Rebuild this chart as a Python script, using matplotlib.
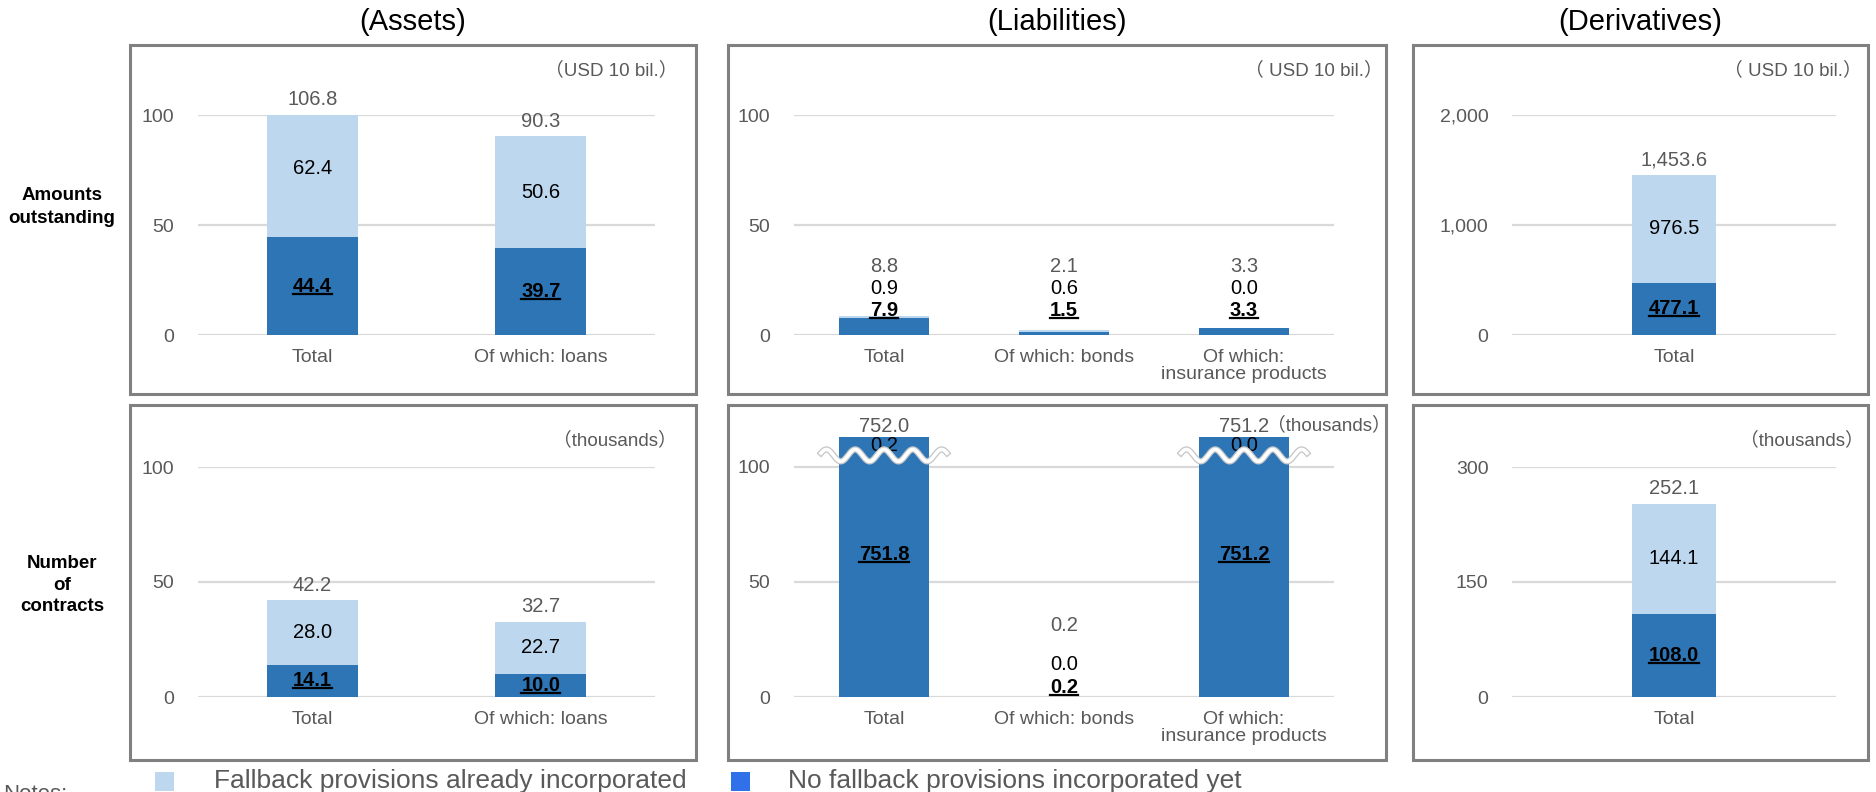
import numpy as np
import matplotlib.pyplot as plt
from matplotlib.patches import Rectangle
from matplotlib.lines import Line2D
from matplotlib.transforms import IdentityTransform

plt.rcParams['font.family'] = ['Liberation Sans', 'Noto Sans CJK JP', 'DejaVu Sans']

# %% data
assets_cats = ['Total', 'Of which: loans']
assets_amt_dark = [44.4, 39.7]
assets_amt_light = [62.4, 50.6]
assets_amt_total = [106.8, 90.3]
assets_num_dark = [14.1, 10.0]
assets_num_light = [28.0, 22.7]
assets_num_total = [42.2, 32.7]

liab_cats = ['Total', 'Of which: bonds', 'Of which:\ninsurance products']
liab_amt_dark = [7.9, 1.5, 3.3]
liab_amt_light = [0.9, 0.6, 0.0]
liab_amt_total = [8.8, 2.1, 3.3]
liab_num_dark = [751.8, 0.2, 751.2]
liab_num_light = [0.2, 0.0, 0.0]
liab_num_total = [752.0, 0.2, 751.2]

deriv_cats = ['Total']
deriv_amt_dark = [477.1]
deriv_amt_light = [976.5]
deriv_amt_total = [1453.6]
deriv_num_dark = [108.0]
deriv_num_light = [144.1]
deriv_num_total = [252.1]

legend_labels = ['Fallback provisions already incorporated',
                 'No fallback provisions incorporated yet']

# %% style
DARK = '#2E75B6'
LIGHT = '#BDD7EE'
LEGEND_DARK = '#3070E8'
GRAY = '#595959'
W, H = 1876, 792

fig = plt.figure(figsize=(W / 100, H / 100), dpi=100)
underlined = []


def rect_px(x0, y0, x1, y1):
    # pixel box, origin top-left -> figure fraction
    return [x0 / W, 1 - y1 / H, (x1 - x0) / W, (y1 - y0) / H]


def box(x0, y0, x1, y1):
    r = rect_px(x0, y0, x1, y1)
    fig.add_artist(Rectangle((r[0], r[1]), r[2], r[3], transform=fig.transFigure,
                             fill=False, ec='#808080', lw=2.2))


def panel(rect, cats, dark, light, totals, ymax, ticks, width, unit, unit_xy,
          stack=(11, 21, 31), break_y=None):
    ax = fig.add_axes(rect)
    x = np.arange(len(cats))
    ax.bar(x, dark, width, color=DARK, zorder=2)
    ax.bar(x, light, width, bottom=dark, color=LIGHT, zorder=2)
    ax.set_xlim(-0.5, len(cats) - 0.5)
    ax.set_ylim(0, ymax)
    ax.set_yticks(ticks)
    ax.set_yticklabels([f'{t:,}' for t in ticks])
    ax.set_xticks(x)
    ax.set_xticklabels(cats, linespacing=1.0)
    ax.yaxis.grid(True, color='#D9D9D9', lw=1.6)
    ax.set_axisbelow(True)
    for s in ax.spines.values():
        s.set_visible(False)
    ax.tick_params(length=0, labelsize=14, colors=GRAY)
    ax.tick_params(axis='y', pad=17)
    ax.tick_params(axis='x', pad=10)

    for i in x:
        d, l, t = dark[i], light[i], totals[i]
        top = min(d + l, ymax)
        if d >= ymax:
            # broken bar: clipped at the top of the axes
            ax.annotate(f'{t:,.1f}', (i, top), xytext=(0, 1), textcoords='offset points',
                        ha='center', va='bottom', color=GRAY, fontsize=14.5, annotation_clip=False)
            ax.annotate(f'{l:,.1f}', (i, top), xytext=(0, 1), textcoords='offset points',
                        ha='center', va='top', color='black', fontsize=14.5, annotation_clip=False)
            dk = ax.text(i, ymax * 0.55, f'{d:,.1f}', ha='center', va='center',
                         fontsize=14.5, fontweight='bold', zorder=4)
            xs = np.linspace(i - 0.35, i + 0.35, 300)
            ys = break_y + 2.6 * np.cos(2 * np.pi * (xs - i) / 0.16)
            ax.plot(xs, ys, color='#C8C8C8', lw=4.5, zorder=3, clip_on=False)
            ax.plot(xs, ys, color='white', lw=2.6, zorder=3, clip_on=False)
        elif d + l < 0.15 * ymax:
            # small bar: labels stacked above
            ax.text(i, stack[2], f'{t:,.1f}', ha='center', va='center', color=GRAY, fontsize=14.5)
            ax.text(i, stack[1], f'{l:,.1f}', ha='center', va='center', color='black', fontsize=14.5)
            dk = ax.text(i, stack[0], f'{d:,.1f}', ha='center', va='center',
                         fontsize=14.5, fontweight='bold', zorder=4)
        else:
            ax.annotate(f'{t:,.1f}', (i, top), xytext=(0, 4), textcoords='offset points',
                        ha='center', va='bottom', color=GRAY, fontsize=14.5, annotation_clip=False)
            ax.text(i, d + l / 2, f'{l:,.1f}', ha='center', va='center', color='black',
                    fontsize=14.5, zorder=4)
            dk = ax.text(i, d / 2, f'{d:,.1f}', ha='center', va='center',
                         fontsize=14.5, fontweight='bold', zorder=4)
        underlined.append(dk)

    # unit note, anchored to the panel box
    fig.text(unit_xy[0] / W, 1 - unit_xy[1] / H, unit, ha='right', va='center',
             color=GRAY, fontsize=13.5)
    return ax


# ----- boxes -----
cols = [(130, 696), (728, 1386), (1413, 1868)]
rows = [(45, 394), (405, 760)]
for (y0, y1) in rows:
    for (x0, x1) in cols:
        box(x0, y0, x1, y1)

for (x0, x1), title in zip(cols, ['(Assets)', '(Liabilities)', '(Derivatives)']):
    fig.text((x0 + x1) / 2 / W, 1 - 22 / H, title, ha='center', va='center', fontsize=21)

fig.text(62 / W, 1 - 207 / H, 'Amounts\noutstanding', ha='center', va='center',
         fontsize=13.5, fontweight='bold', linespacing=1.4)
fig.text(62 / W, 1 - 585 / H, 'Number\nof\ncontracts', ha='center', va='center',
         fontsize=13.5, fontweight='bold', linespacing=1.35)

# ----- top row: amounts outstanding -----
panel(rect_px(198, 115, 655, 335), assets_cats, assets_amt_dark, assets_amt_light,
      assets_amt_total, 100, [0, 50, 100], 0.4, '（USD 10 bil.）', (677, 70))
panel(rect_px(794, 115, 1334, 335), liab_cats, liab_amt_dark, liab_amt_light,
      liab_amt_total, 100, [0, 50, 100], 0.5, '（ USD 10 bil.）', (1383, 70))
panel(rect_px(1512, 115, 1836, 335), deriv_cats, deriv_amt_dark, deriv_amt_light,
      deriv_amt_total, 2000, [0, 1000, 2000], 0.26, '（ USD 10 bil.）', (1862, 70))

# ----- bottom row: number of contracts -----
panel(rect_px(198, 467, 655, 697), assets_cats, assets_num_dark, assets_num_light,
      assets_num_total, 100, [0, 50, 100], 0.4, '（thousands）', (677, 440))
panel(rect_px(794, 437, 1334, 697), liab_cats, liab_num_dark, liab_num_light,
      liab_num_total, 113, [0, 50, 100], 0.5, '（thousands）', (1391, 425),
      stack=(4, 14, 31), break_y=105)
panel(rect_px(1512, 467, 1836, 697), deriv_cats, deriv_num_dark, deriv_num_light,
      deriv_num_total, 300, [0, 150, 300], 0.26, '（thousands）', (1864, 440))

# ----- legend -----
for (sx, tx), color, label in zip([(155, 214), (731, 788)], [LIGHT, LEGEND_DARK], legend_labels):
    r = rect_px(sx, 772, sx + 19, 791)
    fig.add_artist(Rectangle((r[0], r[1]), r[2], r[3], transform=fig.transFigure,
                             color=color, lw=0))
    fig.text(tx / W, 1 - 781 / H, label, ha='left', va='center', fontsize=19, color=GRAY)
fig.text(3 / W, 1 - 784 / H, 'Notes:', ha='left', va='top', fontsize=16, color=GRAY)

# underline the bold figures
fig.canvas.draw()
renderer = fig.canvas.get_renderer()
for t in underlined:
    bb = t.get_window_extent(renderer)
    yl = bb.y0 + 0.1 * bb.height
    fig.add_artist(Line2D([bb.x0, bb.x1], [yl, yl], transform=IdentityTransform(),
                          color='black', lw=1.6, zorder=5))

fig.savefig('out.png', dpi=100)
